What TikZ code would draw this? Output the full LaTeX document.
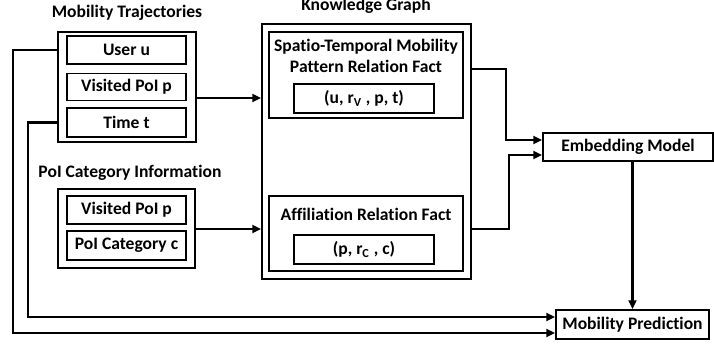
\documentclass[tikz,border=0pt]{standalone}
\usepackage{fontspec}
\setmainfont{Carlito}[Ligatures=NoCommon]
\usetikzlibrary{arrows.meta}
\tikzset{
  blk/.style={draw, line width=1pt, inner sep=0pt, font=\fontsize{10}{12}\selectfont\bfseries},
  ttl/.style={inner sep=0pt, font=\fontsize{10}{12}\selectfont\bfseries},
  arr/.style={line width=1.2pt, -{Triangle[length=5pt,width=4.5pt]}}
}
\begin{document}
\begin{tikzpicture}[x=0.02cm, y=-0.02cm]
    \useasboundingbox (0,0) rectangle (714,345);
    % inputs
    \node [ttl] (trajttl) at (127,13) {Mobility Trajectories};
    \node [blk, minimum width=2.76cm, minimum height=2.2cm] (traj) at (127,87) {};
    \node [blk, minimum width=2.38cm, minimum height=0.56cm] (user) at (126.5,50) {User u};
    \node [blk, minimum width=2.38cm, minimum height=0.54cm] (visit) at (126.5,87) {Visited PoI p};
    \node [blk, minimum width=2.38cm, minimum height=0.58cm] (time) at (126.5,122.5) {Time t};
    \node [ttl] (poittl) at (130,173) {PoI Category Information};
    \node [blk, minimum width=2.74cm, minimum height=1.58cm] (poi) at (126.5,228.5) {};
    \node [blk, minimum width=2.38cm, minimum height=0.56cm] (visit2) at (126.5,210) {Visited PoI p};
    \node [blk, minimum width=2.38cm, minimum height=0.58cm] (cat) at (126.5,245.5) {PoI Category c};
    % knowledge graph
    \node [ttl] (kgttl) at (366,6) {Knowledge Graph};
    \node [blk, minimum width=4.18cm, minimum height=5.1cm] (kg) at (366.5,151.5) {};
    \node [blk, minimum width=3.88cm, minimum height=1.72cm] (stf) at (366,75) {};
    \node [ttl, align=center] (stfttl) at (366,55.5) {Spatio-Temporal Mobility\\Pattern Relation Fact};
    \node [blk, minimum width=2.8cm, minimum height=0.58cm] (stfact) at (364,98.5) {(u, r\textsubscript{V} , p, t)};
    \node [blk, minimum width=3.88cm, minimum height=1.5cm] (aff) at (366,233.5) {};
    \node [ttl] (affttl) at (366,214) {Affiliation Relation Fact};
    \node [blk, minimum width=2.8cm, minimum height=0.58cm] (affact) at (364,249.5) {(p, r\textsubscript{C} , c)};
    % model and task
    \node [blk, minimum width=3.4cm, minimum height=0.56cm] (emb) at (628,147) {Embedding Model};
    \node [blk, minimum width=3.06cm, minimum height=0.58cm] (pred) at (632.5,324.5) {Mobility Prediction};
    % routing points
    \coordinate (r1) at (0,98);
    \coordinate (r2) at (0,229);
    \coordinate (k0) at (0,69);
    \coordinate (k1) at (506,140);
    \coordinate (k2) at (509,155);
    \coordinate (l1) at (13,333);
    \coordinate (l2) at (28,317);
    \draw [arr] (traj.east |- r1) -- (kg.west |- r1);
    \draw [arr] (poi.east |- r2) -- (kg.west |- r2);
    \draw [arr] (kg.east |- k0) -| (k1) -- (emb.west |- k1);
    \draw [arr] (kg.east |- r2) -| (k2) -- (emb.west |- k2);
    \draw [arr] (emb.south -| pred.north) -- (pred.north);
    \draw [arr] (traj.west |- user) -| (l1) -- (pred.west |- l1);
    \draw [arr] (traj.west |- time) -| (l2) -- (pred.west |- l2);
\end{tikzpicture}
\end{document}
